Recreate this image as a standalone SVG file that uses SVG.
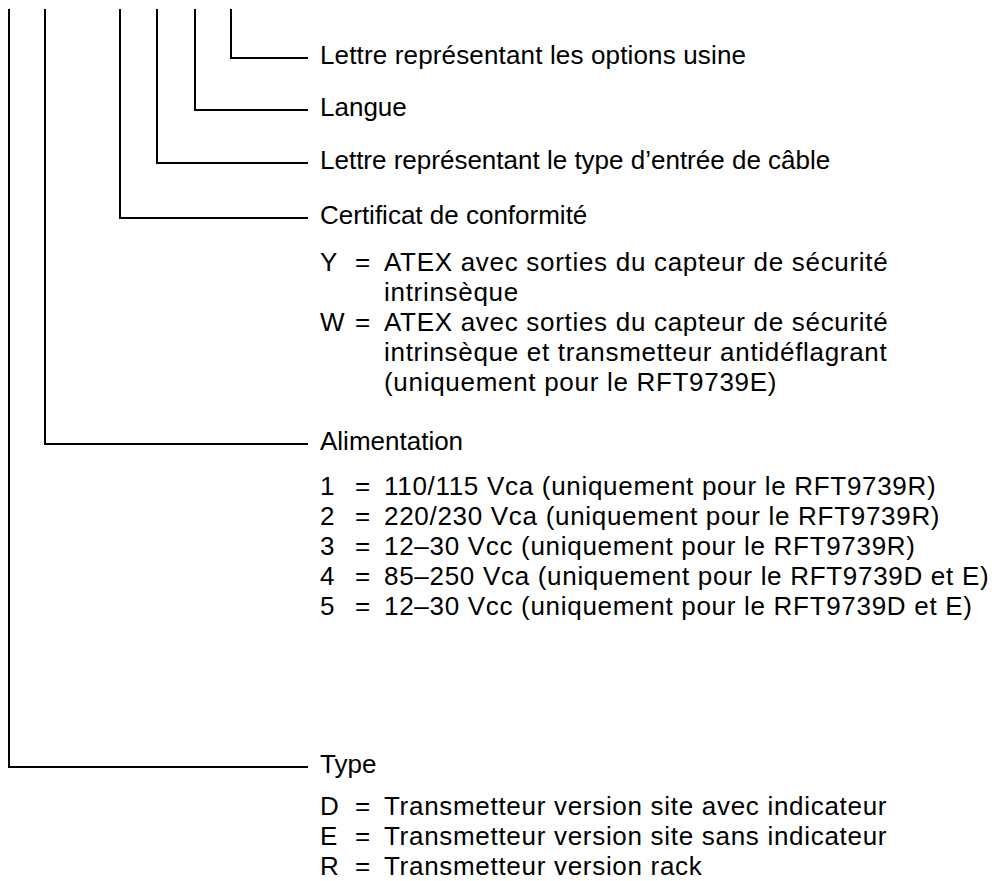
<svg xmlns="http://www.w3.org/2000/svg" width="992" height="881" viewBox="0 0 992 881">
<style>
.c{fill:none;stroke:#000;stroke-width:2}
text{font-family:"Liberation Sans",Arial,Helvetica,sans-serif;font-size:26px;fill:#000}
.h{letter-spacing:0.15px}
.li{letter-spacing:0.7px}
</style>
<rect width="992" height="881" fill="#fff"/>
<g id="connectors">
<polyline class="c" points="231,9 231,58 308,58"/>
<polyline class="c" points="195,9 195,110 308,110"/>
<polyline class="c" points="157,9 157,163 308,163"/>
<polyline class="c" points="120,9 120,218 308,218"/>
<polyline class="c" points="45,9 45,444 308,444"/>
<polyline class="c" points="9,9 9,767 308,767"/>
</g>
<g id="options"><text class="h" x="320" y="64">Lettre représentant les options usine</text></g>
<g id="langue"><text x="320" y="116">Langue</text></g>
<g id="cable"><text x="320" y="169">Lettre représentant le type d’entrée de câble</text></g>
<g id="certificat">
<text x="320" y="224">Certificat de conformité</text>
<text x="320" y="271">Y</text><text x="355" y="271">=</text><text class="li" x="384" y="271">ATEX avec sorties du capteur de sécurité</text>
<text class="li" x="384" y="301">intrinsèque</text>
<text x="320" y="331">W</text><text x="355" y="331">=</text><text class="li" x="384" y="331">ATEX avec sorties du capteur de sécurité</text>
<text class="li" x="384" y="361">intrinsèque et transmetteur antidéflagrant</text>
<text class="li" x="384" y="391">(uniquement pour le RFT9739E)</text>
</g>
<g id="alimentation">
<text x="320" y="450">Alimentation</text>
<text x="320" y="495">1</text><text x="355" y="495">=</text><text class="li" x="384" y="495">110/115 Vca (uniquement pour le RFT9739R)</text>
<text x="320" y="525">2</text><text x="355" y="525">=</text><text class="li" x="384" y="525">220/230 Vca (uniquement pour le RFT9739R)</text>
<text x="320" y="555">3</text><text x="355" y="555">=</text><text class="li" x="384" y="555">12–30 Vcc (uniquement pour le RFT9739R)</text>
<text x="320" y="585">4</text><text x="355" y="585">=</text><text class="li" x="384" y="585">85–250 Vca (uniquement pour le RFT9739D et E)</text>
<text x="320" y="615">5</text><text x="355" y="615">=</text><text class="li" x="384" y="615">12–30 Vcc (uniquement pour le RFT9739D et E)</text>
</g>
<g id="type">
<text x="320" y="773">Type</text>
<text x="320" y="815">D</text><text x="355" y="815">=</text><text class="li" x="384" y="815">Transmetteur version site avec indicateur</text>
<text x="320" y="845">E</text><text x="355" y="845">=</text><text class="li" x="384" y="845">Transmetteur version site sans indicateur</text>
<text x="320" y="875">R</text><text x="355" y="875">=</text><text class="li" x="384" y="875">Transmetteur version rack</text>
</g>
</svg>
